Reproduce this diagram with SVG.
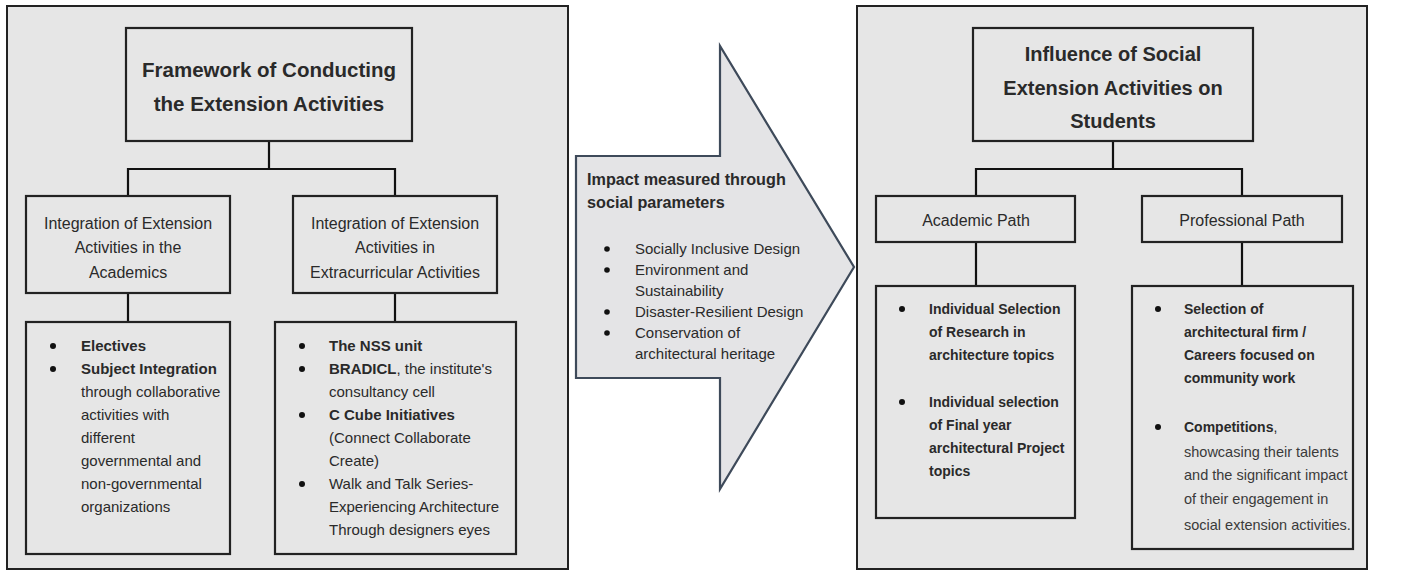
<svg xmlns="http://www.w3.org/2000/svg" width="1424" height="571" viewBox="0 0 1424 571">
<style>
.panel{fill:#e6e6e6;stroke:#222;stroke-width:2}
.box{fill:#e6e6e6;stroke:#222;stroke-width:2.2}
.conn{fill:none;stroke:#111;stroke-width:2.2}
text{font-family:"Liberation Sans",Arial,sans-serif;fill:#2a2a2a}
.title{font-size:20.5px;font-weight:bold;text-anchor:middle}
.head{font-size:16px;text-anchor:middle}
.body{font-size:15px}
.b{font-weight:bold}
.rb{font-size:14px;font-weight:bold}
.rn{font-size:14.5px;fill:#3a3a3a}
.dot{fill:#111}
</style>
<rect width="1424" height="571" fill="#fff"/>
<g id="left-panel"><rect class="panel" x="7" y="6" width="561" height="563"/></g>
<g id="right-panel"><rect class="panel" x="857" y="6" width="510" height="563"/></g>

<g id="connectors">
<path class="conn" d="M269 141V169M128 196V169H395V196"/>
<path class="conn" d="M128 293V322M395 293V322"/>
<path class="conn" d="M1113 141V169M976 196V169H1242V196"/>
<path class="conn" d="M976 242V286M1242 242V286"/>
</g>

<g id="framework-title">
<rect class="box" x="126" y="28" width="286" height="113"/>
<text class="title" x="269" y="77">Framework of Conducting</text>
<text class="title" x="269" y="111">the Extension Activities</text>
</g>

<g id="academics">
<rect class="box" x="26" y="196" width="204" height="97"/>
<text class="head" x="128" y="229">Integration of Extension</text>
<text class="head" x="128" y="253">Activities in the</text>
<text class="head" x="128" y="278">Academics</text>
</g>

<g id="extracurricular">
<rect class="box" x="293" y="196" width="204" height="97"/>
<text class="head" x="395" y="229">Integration of Extension</text>
<text class="head" x="395" y="253">Activities in</text>
<text class="head" x="395" y="278">Extracurricular Activities</text>
</g>

<g id="academics-list">
<rect class="box" x="26" y="322" width="204" height="232"/>
<circle class="dot" cx="53" cy="346" r="3"/>
<circle class="dot" cx="53" cy="369" r="3"/>
<text class="body" x="81" y="351"><tspan class="b">Electives</tspan></text>
<text class="body" x="81" y="374"><tspan class="b">Subject Integration</tspan></text>
<text class="body" x="81" y="397">through collaborative</text>
<text class="body" x="81" y="420">activities with</text>
<text class="body" x="81" y="443">different</text>
<text class="body" x="81" y="466">governmental and</text>
<text class="body" x="81" y="489">non-governmental</text>
<text class="body" x="81" y="512">organizations</text>
</g>

<g id="extracurricular-list">
<rect class="box" x="275" y="322" width="241" height="232"/>
<circle class="dot" cx="302" cy="346" r="3"/>
<circle class="dot" cx="302" cy="369" r="3"/>
<circle class="dot" cx="302" cy="415" r="3"/>
<circle class="dot" cx="302" cy="484" r="3"/>
<text class="body" x="329" y="351"><tspan class="b">The NSS unit</tspan></text>
<text class="body" x="329" y="374"><tspan class="b">BRADICL</tspan>, the institute's</text>
<text class="body" x="329" y="397">consultancy cell</text>
<text class="body" x="329" y="420"><tspan class="b">C Cube Initiatives</tspan></text>
<text class="body" x="329" y="443">(Connect Collaborate</text>
<text class="body" x="329" y="466">Create)</text>
<text class="body" x="329" y="489">Walk and Talk Series-</text>
<text class="body" x="329" y="512">Experiencing Architecture</text>
<text class="body" x="329" y="535">Through designers eyes</text>
</g>

<g id="impact-arrow">
<polygon points="576,156 720,156 720,46 854,267 720,489 720,378 576,378" fill="#e4e4e6" stroke="#3e4a5a" stroke-width="2.2"/>
<text x="587" y="185" style="font-size:16.2px;font-weight:bold">Impact measured through</text>
<text x="587" y="208" style="font-size:16.2px;font-weight:bold">social parameters</text>
<circle class="dot" cx="607" cy="249" r="2.8"/>
<circle class="dot" cx="607" cy="270" r="2.8"/>
<circle class="dot" cx="607" cy="312" r="2.8"/>
<circle class="dot" cx="607" cy="333" r="2.8"/>
<text class="body" x="635" y="254">Socially Inclusive Design</text>
<text class="body" x="635" y="275">Environment and</text>
<text class="body" x="635" y="296">Sustainability</text>
<text class="body" x="635" y="317">Disaster-Resilient Design</text>
<text class="body" x="635" y="338">Conservation of</text>
<text class="body" x="635" y="359">architectural heritage</text>
</g>

<g id="influence-title">
<rect class="box" x="973" y="28" width="280" height="113"/>
<text class="title" x="1113" y="61" style="font-size:20px">Influence of Social</text>
<text class="title" x="1113" y="95" style="font-size:20px">Extension Activities on</text>
<text class="title" x="1113" y="128" style="font-size:20px">Students</text>
</g>

<g id="academic-path">
<rect class="box" x="876" y="196" width="199" height="46"/>
<text class="head" x="976" y="226">Academic Path</text>
</g>

<g id="professional-path">
<rect class="box" x="1142" y="196" width="200" height="46"/>
<text class="head" x="1242" y="226">Professional Path</text>
</g>

<g id="academic-list">
<rect class="box" x="876" y="286" width="199" height="232"/>
<circle class="dot" cx="902" cy="309" r="3"/>
<circle class="dot" cx="902" cy="402" r="3"/>
<text class="rb" x="929" y="314">Individual Selection</text>
<text class="rb" x="929" y="337">of Research in</text>
<text class="rb" x="929" y="360">architecture topics</text>
<text class="rb" x="929" y="407">Individual selection</text>
<text class="rb" x="929" y="430">of Final year</text>
<text class="rb" x="929" y="453">architectural Project</text>
<text class="rb" x="929" y="476">topics</text>
</g>

<g id="professional-list">
<rect class="box" x="1132" y="286" width="221" height="263"/>
<circle class="dot" cx="1158" cy="309" r="3"/>
<circle class="dot" cx="1158" cy="427" r="3"/>
<text class="rb" x="1184" y="314">Selection of</text>
<text class="rb" x="1184" y="337">architectural firm /</text>
<text class="rb" x="1184" y="360">Careers focused on</text>
<text class="rb" x="1184" y="383">community work</text>
<text class="rb" x="1184" y="432">Competitions<tspan style="font-weight:normal">,</tspan></text>
<text class="rn" x="1184" y="457">showcasing their talents</text>
<text class="rn" x="1184" y="480">and the significant impact</text>
<text class="rn" x="1184" y="504">of their engagement in</text>
<text class="rn" x="1184" y="530">social extension activities.</text>
</g>
</svg>
